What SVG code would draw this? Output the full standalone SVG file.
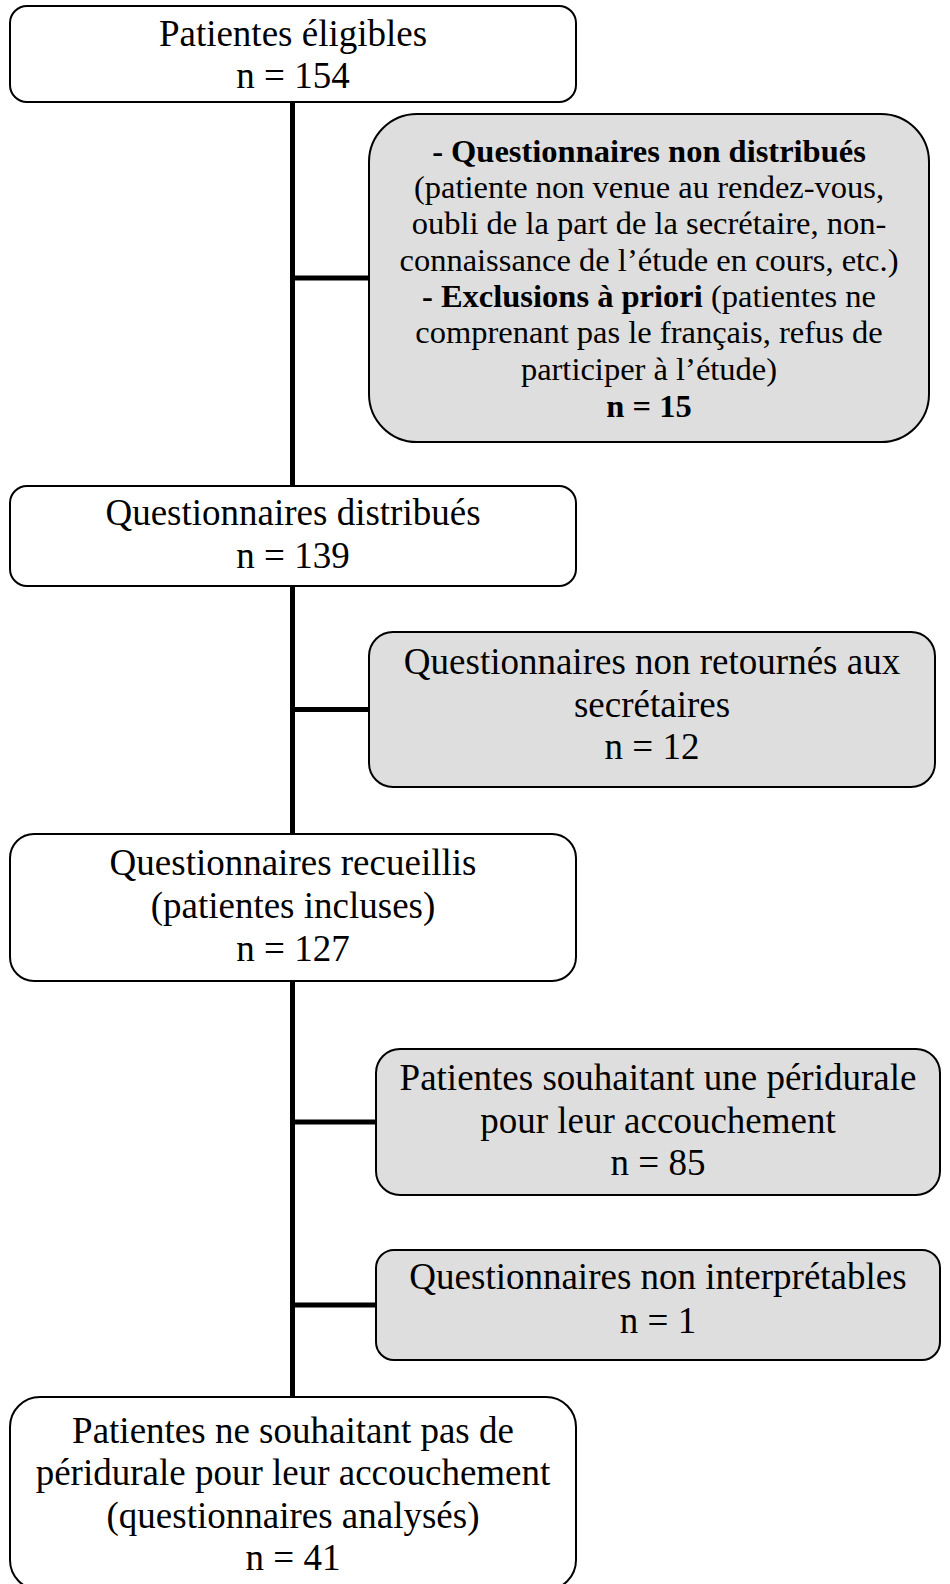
<svg xmlns="http://www.w3.org/2000/svg" width="950" height="1584" viewBox="0 0 950 1584">
<style>
.box{fill:#ffffff;stroke:#000000;stroke-width:2}
.gray{fill:#dedede;stroke:#000000;stroke-width:2}
.t{font-family:"Liberation Serif","Times New Roman",serif;font-size:37px;fill:#000000;text-anchor:middle}
.s{font-family:"Liberation Serif","Times New Roman",serif;font-size:32.5px;fill:#000000;text-anchor:middle}
.b{font-weight:bold}
.conn{stroke:#000000;stroke-width:5;fill:none}
</style>
<rect width="950" height="1584" fill="#ffffff"/>
<g id="connectors">
<line class="conn" x1="292.5" y1="102" x2="292.5" y2="1398"/>
<line class="conn" x1="292.5" y1="278" x2="369" y2="278"/>
<line class="conn" x1="292.5" y1="709.5" x2="369" y2="709.5"/>
<line class="conn" x1="292.5" y1="1122" x2="376" y2="1122"/>
<line class="conn" x1="292.5" y1="1305" x2="376" y2="1305"/>
</g>
<g id="n1">
<rect class="box" x="10" y="6" width="566" height="96" rx="17" ry="17"/>
<text class="t" x="293" y="46">Patientes éligibles</text>
<text class="t" x="293" y="88">n = 154</text>
</g>
<g id="n2">
<rect class="gray" x="369" y="114" width="560" height="328" rx="48" ry="48"/>
<text class="s b" x="649" y="162">- Questionnaires non distribués</text>
<text class="s" x="649" y="198">(patiente non venue au rendez-vous,</text>
<text class="s" x="649" y="234">oubli de la part de la secrétaire, non-</text>
<text class="s" x="649" y="271">connaissance de l’étude en cours, etc.)</text>
<text class="s" x="649" y="307"><tspan class="b">- Exclusions à priori</tspan> (patientes ne</text>
<text class="s" x="649" y="343">comprenant pas le français, refus de</text>
<text class="s" x="649" y="380">participer à l’étude)</text>
<text class="s b" x="649" y="417">n = 15</text>
</g>
<g id="n3">
<rect class="box" x="10" y="486" width="566" height="100" rx="17" ry="17"/>
<text class="t" x="293" y="525">Questionnaires distribués</text>
<text class="t" x="293" y="568">n = 139</text>
</g>
<g id="n4">
<rect class="gray" x="369" y="632" width="566" height="155" rx="24" ry="24"/>
<text class="t" x="652" y="674">Questionnaires non retournés aux</text>
<text class="t" x="652" y="717">secrétaires</text>
<text class="t" x="652" y="759">n = 12</text>
</g>
<g id="n5">
<rect class="box" x="10" y="834" width="566" height="147" rx="24" ry="24"/>
<text class="t" x="293" y="875">Questionnaires recueillis</text>
<text class="t" x="293" y="918">(patientes incluses)</text>
<text class="t" x="293" y="961">n = 127</text>
</g>
<g id="n6">
<rect class="gray" x="376" y="1049" width="564" height="146" rx="24" ry="24"/>
<text class="t" x="658" y="1090">Patientes souhaitant une péridurale</text>
<text class="t" x="658" y="1133">pour leur accouchement</text>
<text class="t" x="658" y="1175">n = 85</text>
</g>
<g id="n7">
<rect class="gray" x="376" y="1250" width="564" height="110" rx="18" ry="18"/>
<text class="t" x="658" y="1289">Questionnaires non interprétables</text>
<text class="t" x="658" y="1333">n = 1</text>
</g>
<g id="n8">
<rect class="box" x="10" y="1397" width="566" height="193" rx="30" ry="30"/>
<text class="t" x="293" y="1443">Patientes ne souhaitant pas de</text>
<text class="t" x="293" y="1485">péridurale pour leur accouchement</text>
<text class="t" x="293" y="1528">(questionnaires analysés)</text>
<text class="t" x="293" y="1570">n = 41</text>
</g>
</svg>
